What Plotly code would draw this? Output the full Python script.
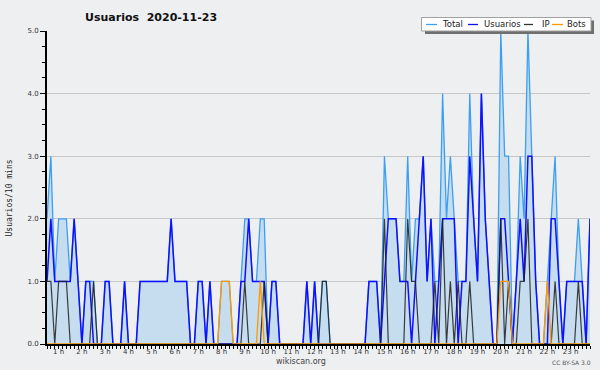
import plotly.graph_objects as go

# ---- data (one value per 10-minute slot) ----
usuarios = [1,2,1,1,1,1,1,2,1,0,
            1,1,0,0,0,1,1,0,0,0,
            1,0,0,0,1,1,1,1,1,1,
            1,1,2,1,1,1,1,0,0,1,
            1,0,1,0,0,0,0,0,0,0,
            1,1,2,1,1,1,1,0,1,1,
            0,0,0,0,0,0,0,1,0,1,
            0,0,0,0,0,0,0,0,0,0,
            0,0,0,1,1,1,0,1,2,2,
            2,1,1,1,0,1,2,3,1,2,
            0,1,2,2,2,2,0,1,1,3,
            2,1,4,2,1,0,0,2,2,1,
            0,1,2,1,3,3,1,0,0,0,
            2,2,1,0,1,1,1,1,1,0,2]
ip = [1,1,0,1,1,1,0,0,0,0,
      0,0,1,0,0,0,0,0,0,0,
      0,0,0,0,0,0,0,0,0,0,
      0,0,0,0,0,0,0,0,0,0,
      0,0,0,0,0,0,0,0,0,0,
      0,1,0,0,0,0,1,0,0,0,
      0,0,0,0,0,0,0,0,0,0,
      0,1,1,0,0,0,0,0,0,0,
      0,0,0,0,0,0,0,2,0,0,
      0,0,0,2,1,1,0,0,0,0,
      1,0,2,0,1,0,1,0,0,1,
      0,0,0,0,0,0,0,2,0,1,
      0,0,1,1,2,0,0,0,0,0,
      0,1,0,0,0,0,0,1,0,0,0]
bots = [0,0,0,0,0,0,0,0,0,0,
        0,0,0,0,0,0,0,0,0,0,
        0,0,0,0,0,0,0,0,0,0,
        0,0,0,0,0,0,0,0,0,0,
        0,0,0,0,0,1,1,1,0,0,
        0,0,0,0,0,1,0,0,0,0,
        0,0,0,0,0,0,0,0,0,0,
        0,0,0,0,0,0,0,0,0,0,
        0,0,0,0,0,0,0,0,0,0,
        0,0,0,0,0,0,0,0,0,0,
        0,0,0,0,0,0,0,0,0,0,
        0,0,0,0,0,0,0,1,1,1,
        0,0,0,0,0,0,0,0,0,1,
        0,0,0,0,0,0,0,0,0,0,0]
total = [2,3,1,2,2,2,1,2,1,0,
         1,1,1,0,0,1,1,0,0,0,
         1,0,0,0,1,1,1,1,1,1,
         1,1,2,1,1,1,1,0,0,1,
         1,0,1,0,0,1,1,1,0,0,
         1,2,2,1,1,2,2,0,1,1,
         0,0,0,0,0,0,0,1,0,1,
         0,1,1,0,0,0,0,0,0,0,
         0,0,0,1,1,1,0,3,2,2,
         2,1,1,3,1,2,2,3,1,2,
         1,1,4,2,3,2,1,1,1,4,
         2,1,4,2,1,0,0,5,3,3,
         0,1,3,2,5,3,1,0,0,1,
         2,3,1,0,1,1,1,2,1,0,2]
hour_labels = ["1 h","2 h","3 h","4 h","5 h","6 h","7 h","8 h","9 h","10 h",
               "11 h","12 h","13 h","14 h","15 h","16 h","17 h","18 h","19 h",
               "20 h","21 h","22 h","23 h"]
slots = list(range(len(usuarios)))
label_pos = [6 * (k + 1) - 3 for k in range(len(hour_labels))]

C_TOTAL = "#3d9ff0"
C_USU = "#1010ff"
C_IP = "rgba(30,30,30,0.85)"
C_BOTS = "#ff9900"
BG = "#eeeff0"

fig = go.Figure()
fig.add_trace(go.Scatter(x=slots, y=total, mode="lines", name="Total",
                         line=dict(color=C_TOTAL, width=1.3),
                         fill="tozeroy", fillcolor="#c6ddf0"))
fig.add_trace(go.Scatter(x=slots, y=usuarios, mode="lines", name="Usuarios",
                         line=dict(color=C_USU, width=1.5)))
fig.add_trace(go.Scatter(x=slots, y=ip, mode="lines", name="IP",
                         line=dict(color=C_IP, width=1.2)))
fig.add_trace(go.Scatter(x=slots, y=bots, mode="lines", name="Bots",
                         line=dict(color=C_BOTS, width=1.3)))

L, R, T, B = 47, 590, 31, 344
def px(x):
    return (x - L) / (R - L)
def py(y):
    return (B - y) / (B - T)

shapes = [
    dict(type="rect", xref="paper", yref="paper", x0=px(425), x1=px(594), y0=py(34), y1=py(20.5),
         fillcolor="#6f6f6f", line=dict(width=0)),
    dict(type="rect", xref="paper", yref="paper", x0=px(421.5), x1=px(591), y0=py(31), y1=py(17.5),
         fillcolor="white", line=dict(color="#a0a0a0", width=1)),
]
legend_items = [("Total", C_TOTAL, 426, 437, 439.5),
                ("Usuarios", C_USU, 468, 478, 481.5),
                ("IP", "#333333", 524, 533, 539.5),
                ("Bots", C_BOTS, 552, 563, 564.5)]
annotations = []
for name, col, lx0, lx1, tx in legend_items:
    shapes.append(dict(type="line", xref="paper", yref="paper", x0=px(lx0), x1=px(lx1),
                       y0=py(24.5), y1=py(24.5), line=dict(color=col, width=1.3)))
    annotations.append(dict(xref="paper", yref="paper", x=px(tx), y=py(24.3), text=name,
                            showarrow=False, xanchor="left", yanchor="middle",
                            font=dict(family="DejaVu Sans", size=8.5, color="#222")))

annotations += [
    dict(xref="paper", yref="paper", x=px(83), y=py(17), text="<b>Usuarios\u00a0 2020-11-23</b>",
         showarrow=False, xanchor="left", yanchor="middle",
         font=dict(family="DejaVu Sans", size=11, color="#111")),
    dict(xref="paper", yref="paper", x=px(9.5), y=py(198), text="Usuarios/10 mins",
         textangle=-90, showarrow=False, xanchor="center", yanchor="middle",
         font=dict(family="DejaVu Sans Mono", size=8, color="#222")),
    dict(xref="paper", yref="paper", x=px(300.5), y=py(361), text="wikiscan.org",
         showarrow=False, xanchor="center", yanchor="middle",
         font=dict(family="DejaVu Sans", size=8, color="#444")),
    dict(xref="paper", yref="paper", x=px(593), y=py(362), text="CC BY-SA 3.0",
         showarrow=False, xanchor="right", yanchor="middle",
         font=dict(family="DejaVu Sans", size=6, color="#555")),
]

fig.update_layout(
    width=600, height=370, autosize=False,
    margin=dict(l=L, r=600 - R, t=T, b=370 - B, pad=0),
    paper_bgcolor=BG, plot_bgcolor=BG, showlegend=False,
    font=dict(family="DejaVu Sans", size=7, color="#333"),
    shapes=shapes, annotations=annotations,
    xaxis=dict(range=[0, len(usuarios) - 1], tickmode="array", tickvals=label_pos,
               ticktext=hour_labels, ticks="", showline=True, linecolor="#000",
               linewidth=2, showgrid=False, zeroline=False,
               tickfont=dict(family="DejaVu Sans", size=7, color="#333"),
               minor=dict(ticks="outside", tick0=0, dtick=1, ticklen=3,
                          tickcolor="#000", tickwidth=1, showgrid=False)),
    yaxis=dict(range=[0, 5], dtick=1, tick0=0, tickformat=".1f", ticks="outside",
               ticklen=5, tickcolor="#000", tickwidth=1, showline=True,
               linecolor="#000", linewidth=2, showgrid=True, gridcolor="#c8c8c8",
               gridwidth=1, zeroline=False,
               tickfont=dict(family="DejaVu Sans", size=7, color="#333"),
               minor=dict(ticks="outside", dtick=0.25, ticklen=3, tickcolor="#000",
                          tickwidth=1, showgrid=False)),
)

fig.write_html("out.html", config={"displayModeBar": False},
               post_script="document.body.style.margin='0';document.body.style.background='" + BG + "';")
